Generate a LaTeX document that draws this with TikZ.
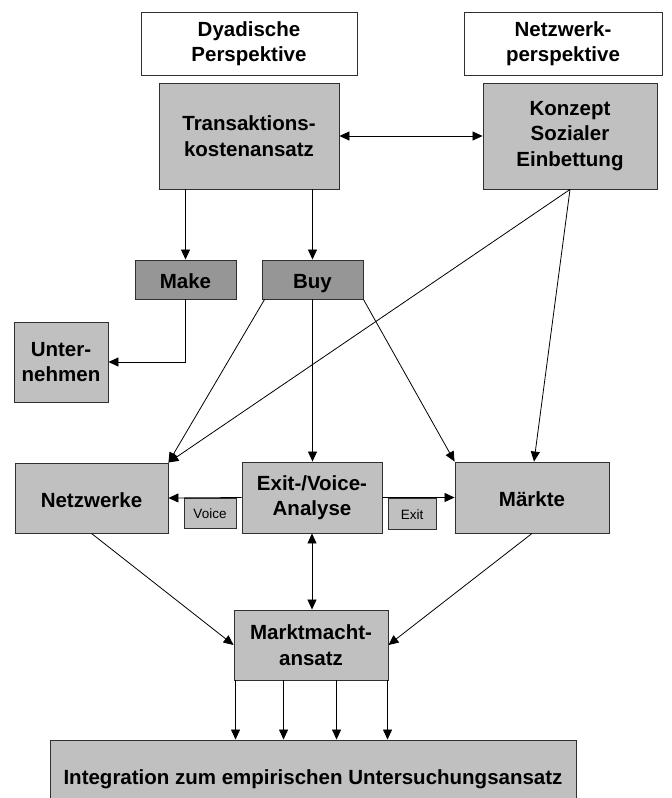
\documentclass[tikz,border=0pt]{standalone}
\usepackage{fontspec}
\setmainfont{Liberation Sans}
\usetikzlibrary{arrows.meta,calc}

\definecolor{boxgray}{HTML}{C0C0C0}
\definecolor{darkgray}{HTML}{969696}
\definecolor{edge}{HTML}{303030}

\begin{document}
\begin{tikzpicture}[x=1pt,y=-1pt,
  base/.style={draw=edge,line width=0.9pt,inner sep=0pt,align=center,
    font=\fontsize{20.5}{25.5}\selectfont\bfseries},
  oneline/.style={text height=18pt,text depth=0pt},
  headbox/.style={base,fill=white},
  graybox/.style={base,fill=boxgray},
  choicebox/.style={base,oneline,fill=darkgray},
  tagbox/.style={draw=edge,line width=0.9pt,inner sep=0pt,fill=boxgray,
    text height=11pt,text depth=0pt,font=\fontsize{13.5}{16}\selectfont},
  conn/.style={line width=0.8pt,draw=black},
  arr/.style={conn,-{Triangle[length=10pt,width=9pt]}},
  darr/.style={conn,{Triangle[length=10pt,width=9pt]}-{Triangle[length=10pt,width=9pt]}}]

\useasboundingbox (0,0) rectangle (672,798);
\clip (0,0) rectangle (672,798);

% perspective headers
\node[headbox,minimum width=216pt,minimum height=63pt] (dyad) at (249,43.5) {Dyadische\\Perspektive};
\node[headbox,minimum width=198pt,minimum height=63pt] (netz) at (563,43.5) {Netzwerk-\\perspektive};

% theoretical approaches
\node[graybox,minimum width=180pt,minimum height=106pt] (tka) at (249,136) {Transaktions-\\kostenansatz};
\node[graybox,minimum width=174pt,minimum height=106pt] (konz) at (570,136) {Konzept\\Sozialer\\Einbettung};

% make or buy
\node[choicebox,minimum width=101pt,minimum height=39pt] (make) at (185.5,279.5) {Make};
\node[choicebox,minimum width=101pt,minimum height=39pt] (buy) at (312.5,279.5) {Buy};
\node[graybox,minimum width=94pt,minimum height=80pt] (unter) at (61,362) {Unter-\\nehmen};

% coordination forms
\node[graybox,oneline,minimum width=153pt,minimum height=70pt] (netzw) at (91.5,498) {Netzwerke};
\node[graybox,minimum width=140pt,minimum height=71pt] (evoice) at (312,497.5) {Exit-/Voice-\\Analyse};
\node[graybox,oneline,minimum width=154pt,minimum height=71pt] (maerkte) at (532,497.5) {Märkte};
\node[tagbox,minimum width=52pt,minimum height=30pt] (voice) at (210,513) {Voice};
\node[tagbox,minimum width=48pt,minimum height=31pt] (exit) at (412,513.5) {Exit};

% market power and integration
\node[graybox,minimum width=154pt,minimum height=70pt] (mm) at (311,645) {Marktmacht-\\ansatz};
\node[graybox,oneline,minimum width=526pt,minimum height=70pt] (integ) at (313,775) {Integration zum empirischen Untersuchungsansatz};

% connectors
\draw[darr] (tka.east) -- (konz.west);
\draw[arr] (make |- tka.south) -- (make.north);
\draw[arr] (buy |- tka.south) -- (buy.north);
\draw[arr] (make.south) |- (unter.east);

\draw[arr] (konz.south) -- (netzw.north east);
\draw[arr] (konz.south) -- ([xshift=2pt]maerkte.north);
\draw[arr] ([xshift=3pt]buy.south west) -- (netzw.north east);
\draw[arr] (buy.south) -- (buy.south |- evoice.north);
\draw[arr] (buy.south east) -- (maerkte.north west);

\draw[arr] (evoice.west) -- (netzw.east);
\draw[arr] (evoice.east) -- (maerkte.west);

\draw[arr] (netzw.south) -- (mm.west);
\draw[arr] (maerkte.south) -- (mm.east);
\draw[darr] (evoice.south) -- (evoice.south |- mm.north);

\foreach \dx [count=\i] in {2,50,103,154} {
  \coordinate (o\i) at ([xshift=\dx pt]mm.south west);
  \draw[arr] (o\i) -- (o\i |- integ.north);
}
\end{tikzpicture}
\end{document}
